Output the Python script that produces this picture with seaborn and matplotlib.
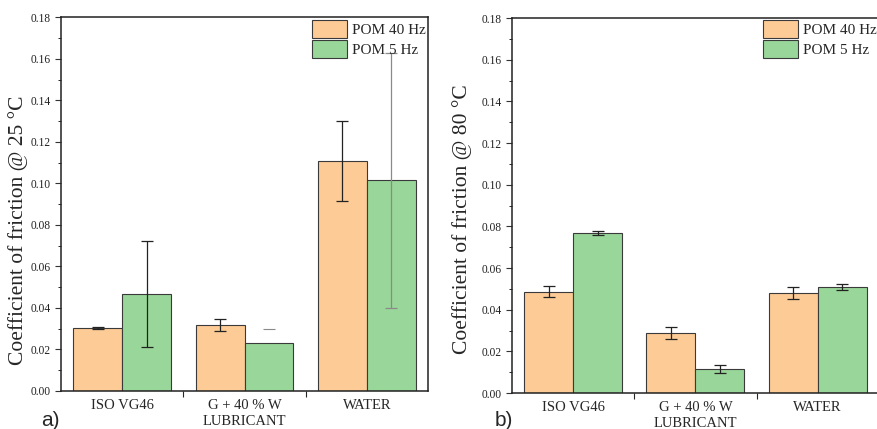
import numpy as np
import pandas as pd
import matplotlib
matplotlib.use("Agg")
import matplotlib.pyplot as plt
import seaborn as sns
from matplotlib.ticker import MultipleLocator, FixedLocator, FormatStrFormatter

# data
categories = ["ISO VG46", "G + 40 % W\nLUBRICANT", "WATER"]
series = ["POM 40 Hz", "POM 5 Hz"]

cof_25_40hz = [0.0303, 0.0319, 0.1109]
cof_25_5hz = [0.0467, 0.0233, 0.1014]
err_25_40hz = [0.0006, 0.0029, 0.0193]
err_25_5hz = [0.0257, 0.0067, 0.0614]

cof_80_40hz = [0.0487, 0.0289, 0.0479]
cof_80_5hz = [0.0769, 0.0115, 0.0510]
err_80_40hz = [0.0027, 0.0029, 0.0030]
err_80_5hz = [0.0010, 0.0021, 0.0015]

colors = ["#FDCC96", "#99D69A"]

sns.set_style("ticks")
plt.rcParams["font.family"] = ["Liberation Serif", "DejaVu Serif"]


def make_df(v40, v5):
    return pd.DataFrame({
        "lubricant": categories * 2,
        "series": [series[0]] * 3 + [series[1]] * 3,
        "cof": list(v40) + list(v5),
    })


def draw(ax, v40, v5, e40, e5, ylabel, label_xy, err_colors, hidden_line=()):
    df = make_df(v40, v5)
    sns.barplot(data=df, x="lubricant", y="cof", hue="series", palette=colors,
                errorbar=None, width=0.8, edgecolor="#3a3a3a", linewidth=0.8,
                saturation=1, ax=ax, zorder=2)
    for i, (vals, errs) in enumerate([(v40, e40), (v5, e5)]):
        for j, bar in enumerate(ax.containers[i]):
            xc = bar.get_x() + bar.get_width() / 2
            col = err_colors[i][j]
            if (i, j) in hidden_line:
                # only the upper cap shows in the reference
                ax.errorbar(xc, vals[j], yerr=errs[j], fmt="none", ecolor=col,
                            elinewidth=0, capsize=4, capthick=0.8, zorder=1)
            else:
                ax.errorbar(xc, vals[j], yerr=errs[j], fmt="none", ecolor=col,
                            elinewidth=0.9, capsize=4, capthick=0.9, zorder=3)
    ax.set_xlim(-0.5, 2.5)
    ax.set_ylim(0, 0.18)
    ax.yaxis.set_major_locator(MultipleLocator(0.02))
    ax.yaxis.set_minor_locator(MultipleLocator(0.01))
    ax.yaxis.set_major_formatter(FormatStrFormatter("%.2f"))
    # ticks at category boundaries, labels at centres
    ax.xaxis.set_major_locator(FixedLocator([0.5, 1.5]))
    ax.set_xticklabels([])
    ax.xaxis.set_minor_locator(FixedLocator([0, 1, 2]))
    ax.set_xticklabels(categories, minor=True, fontsize=10.5, linespacing=1.25)
    ax.tick_params(axis="x", which="minor", length=0, pad=6)
    ax.tick_params(axis="x", which="major", length=4, width=0.8, direction="out")
    ax.tick_params(axis="y", which="major", labelsize=8.3, length=4, width=0.8,
                   direction="out", colors="#333333", labelcolor="#222222")
    ax.tick_params(axis="y", which="minor", length=2.5, width=0.7, direction="out")
    for s in ax.spines.values():
        s.set_visible(True)
        s.set_linewidth(1.1)
        s.set_color("#222222")
    ax.set_xlabel("")
    ax.set_ylabel(ylabel, fontsize=15.5)
    ax.yaxis.set_label_coords(*label_xy)
    ax.legend(title=None, loc="upper right", frameon=False, fontsize=11,
              handlelength=2.3, handleheight=1.45, handletextpad=0.3,
              labelspacing=0.12, borderaxespad=0.1, borderpad=0.05)
    ax.set_facecolor("white")


fig = plt.figure(figsize=(8.78, 4.29), dpi=100)
ax1 = fig.add_axes([0.0695, 0.0886, 0.418, 0.871])
ax2 = fig.add_axes([0.583, 0.0839, 0.418, 0.874])

dark = "#222222"
gray = "#8a8a8a"
draw(ax1, cof_25_40hz, cof_25_5hz, err_25_40hz, err_25_5hz,
     "Coefficient of friction @ 25 °C", (-0.09, 0.43),
     [[dark, dark, dark], [dark, gray, gray]], hidden_line=[(1, 1)])
draw(ax2, cof_80_40hz, cof_80_5hz, err_80_40hz, err_80_5hz,
     "Coefficient of friction @ 80 °C", (-0.109, 0.465),
     [[dark, dark, dark], [dark, dark, dark]])

fig.text(0.047, 0.008, "a)", fontsize=15, family="Liberation Sans")
fig.text(0.563, 0.008, "b)", fontsize=15, family="Liberation Sans")

fig.savefig("out.png", dpi=100)
